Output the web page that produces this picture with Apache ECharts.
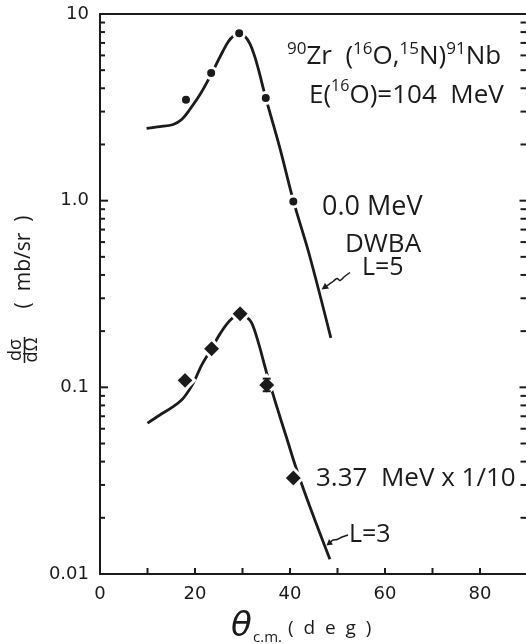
<!DOCTYPE html>
<html><head><meta charset="utf-8">
<script src="https://cdn.jsdelivr.net/npm/echarts@6/dist/echarts.min.js"></script>
<style>html,body{margin:0;padding:0;background:#fff}#c{width:526px;height:644px}</style>
</head><body><div id="c"></div>
<script>
// ---- data ----
const upperCurveX = [9.8, 12.6, 15.4, 17.2, 18.9, 21.05, 23.2, 25.3, 27.0, 28.2, 29.3, 30.5, 31.6, 32.5, 33.4, 34.9, 37.9, 40.7, 44.1, 48.6];
const upperCurveY = [2.44, 2.49, 2.56, 2.72, 3.08, 3.70, 4.64, 5.92, 7.11, 7.65, 7.89, 7.6, 6.9, 6.0, 5.0, 3.55, 1.9, 1.0, 0.51, 0.184];
const lowerCurveX = [10.0, 12.6, 15.4, 17.5, 19.6, 21.4, 23.5, 25.3, 27.4, 29.5, 30.7, 31.9, 33.3, 35.1, 37.2, 39.3, 41.4, 44.9, 48.4];
const lowerCurveY = [0.0643, 0.0711, 0.0788, 0.0873, 0.105, 0.1315, 0.1614, 0.194, 0.2286, 0.248, 0.240, 0.222, 0.175, 0.119, 0.079, 0.0535, 0.0362, 0.0205, 0.012];
const upperPointsX = [18.1, 23.4, 29.3, 34.9, 40.7];
const upperPointsY = [3.47, 4.83, 7.89, 3.55, 0.99];
const lowerPointsX = [17.9, 23.5, 29.5, 35.1, 40.7];
const lowerPointsY = [0.109, 0.161, 0.248, 0.103, 0.0327];
const errBarX = [35.1];
const errBarLow = [0.0953];
const errBarHigh = [0.1113];
const xTickValues = [10, 20, 30, 40, 50, 60, 70, 80];
const xTickLabels = ['0', '20', '40', '60', '80'];
const yTickValues = [0.01, 0.1, 1, 10];
const yTickLabels = ['0.01', '0.1', '1.0', '10'];
const minorMultipliers = [2, 3, 4, 5, 6, 7, 8, 9];
const decades = [0.01, 0.1, 1];

const minorTickValues = [];
decades.forEach(d => minorMultipliers.forEach(m => minorTickValues.push(d * m)));

const FONT = 'Open Sans';
const TICKFONT = 'DejaVu Sans';
const INK = '#1b1b1b';
const zip = (a, b) => a.map((v, i) => [v, b[i]]);

const chart = echarts.init(document.getElementById('c'), null, {renderer: 'canvas'});

function yLabel(v) {
  for (let i = 0; i < yTickValues.length; i++) {
    if (Math.abs(Math.log10(v) - Math.log10(yTickValues[i])) < 1e-6) return yTickLabels[i];
  }
  return '';
}
function xLabel(v) {
  const s = String(Math.round(v));
  return xTickLabels.indexOf(s) >= 0 ? s : '';
}

const axisLineStyle = {color: INK, width: 2};
const option = {
  backgroundColor: '#fff',
  animation: false,
  grid: {left: 100, top: 14, width: 427.5, height: 560, containLabel: false, outerBoundsMode: 'none'},
  xAxis: [{
    type: 'value', min: 0, max: 90, interval: 10, position: 'bottom',
    axisLine: {show: true, onZero: false, lineStyle: axisLineStyle},
    axisTick: {show: false},
    axisLabel: {formatter: xLabel, color: INK, fontFamily: TICKFONT, fontSize: 18, margin: 11},
    splitLine: {show: false}
  }, {
    type: 'value', min: 0, max: 90, position: 'top',
    axisLine: {show: true, onZero: false, lineStyle: axisLineStyle},
    axisTick: {show: false}, axisLabel: {show: false}, splitLine: {show: false}
  }],
  yAxis: [{
    type: 'log', logBase: 10, min: 0.01, max: 10, position: 'left',
    axisLine: {show: true, onZero: false, lineStyle: axisLineStyle},
    axisTick: {show: false},
    axisLabel: {formatter: yLabel, color: INK, fontFamily: TICKFONT, fontSize: 18, margin: 11},
    splitLine: {show: false}
  }, {
    type: 'log', logBase: 10, min: 0.01, max: 10, position: 'right',
    axisLine: {show: true, onZero: false, lineStyle: axisLineStyle},
    axisTick: {show: false}, axisLabel: {show: false}, splitLine: {show: false}
  }],
  series: [
    {type: 'line', data: zip(upperCurveX, upperCurveY), symbol: 'none', smooth: 0.35, z: 2,
     lineStyle: {color: INK, width: 2.8}},
    {type: 'line', data: zip(lowerCurveX, lowerCurveY), symbol: 'none', smooth: 0.35, z: 2,
     lineStyle: {color: INK, width: 2.8}},
    {type: 'scatter', data: zip(upperPointsX, upperPointsY), symbol: 'circle', symbolSize: 11, z: 3,
     itemStyle: {color: INK, borderColor: '#fff', borderWidth: 3, opacity: 1}},
    {type: 'scatter', data: zip(lowerPointsX, lowerPointsY), symbol: 'diamond', symbolSize: 19, z: 3,
     itemStyle: {color: INK, borderColor: '#fff', borderWidth: 3, opacity: 1}},
    {type: 'custom', coordinateSystem: 'cartesian2d', z: 4, silent: true,
     data: errBarX.map((x, i) => [x, errBarLow[i], errBarHigh[i]]),
     renderItem: (params, api) => {
       const lo = api.coord([api.value(0), api.value(1)]);
       const hi = api.coord([api.value(0), api.value(2)]);
       const w = 4;
       return {type: 'group', children: [
         {type: 'line', shape: {x1: lo[0], y1: lo[1], x2: hi[0], y2: hi[1]}, style: {stroke: INK, lineWidth: 2}},
         {type: 'line', shape: {x1: lo[0] - w, y1: lo[1], x2: lo[0] + w, y2: lo[1]}, style: {stroke: INK, lineWidth: 2}},
         {type: 'line', shape: {x1: hi[0] - w, y1: hi[1], x2: hi[0] + w, y2: hi[1]}, style: {stroke: INK, lineWidth: 2}}
       ]};
     }}
  ]
};
chart.setOption(option);

// ---- axis ticks, placed through the chart's own scales ----
const toPx = (x, y) => chart.convertToPixel({xAxisIndex: 0, yAxisIndex: 0}, [x, y]);
const g = [];
function tick(x1, y1, x2, y2) {
  g.push({type: 'line', shape: {x1: x1, y1: y1, x2: x2, y2: y2}, style: {stroke: INK, lineWidth: 2}});
}
const xMinPx = toPx(0, 1)[0], xMaxPx = toPx(90, 1)[0];
const yBotPx = toPx(0, 0.01)[1];
yTickValues.forEach(v => { const y = toPx(0, v)[1]; tick(xMinPx, y, xMinPx + 8, y); tick(xMaxPx - 8, y, xMaxPx, y); });
minorTickValues.forEach(v => { const y = toPx(0, v)[1]; tick(xMinPx, y, xMinPx + 5, y); tick(xMaxPx - 7, y, xMaxPx, y); });
xTickValues.forEach(v => { const x = toPx(v, 1)[0]; tick(x, yBotPx, x, yBotPx - 6); });

function txt(x, y, text, size, extra) {
  extra = extra || {};
  return {type: 'text', x: x, y: y, silent: true, z: 10, rotation: extra.rotation || 0,
    style: Object.assign({text: text, fill: INK, fontFamily: FONT, fontSize: size,
      textAlign: 'left', textVerticalAlign: 'middle'}, extra.style || {})};
}
const sup = {fontSize: 16, lineHeight: 16, verticalAlign: 'top', fontFamily: FONT, fill: INK};
const sup17 = Object.assign({}, sup, {fontSize: 17, lineHeight: 17});
g.push({type: 'text', x: 287, y: 57, z: 10, silent: true, style: {
  text: '{s|90}{m|Zr  (}{s|16}{m|O,}{s|15}{m|N)}{s|91}{m|Nb}',
  textVerticalAlign: 'middle', fill: INK,
  rich: {s: sup17, m: {fontSize: 26, lineHeight: 33, verticalAlign: 'middle', fontFamily: FONT, fill: INK}}
}});
g.push({type: 'text', x: 309, y: 96, z: 10, silent: true, style: {
  text: '{m|E(}{s|16}{m|O)=104  MeV}',
  textVerticalAlign: 'middle', fill: INK,
  rich: {s: sup, m: {fontSize: 26, lineHeight: 36, verticalAlign: 'middle', fontFamily: FONT, fill: INK}}
}});
g.push(txt(322, 207, '0.0 MeV', 27));
g.push(txt(345, 245, 'DWBA', 26));
g.push(txt(362, 268, 'L=5', 25));
g.push(txt(316, 479, '3.37  MeV x 1/10', 26));
g.push(txt(349, 535, 'L=3', 25));
g.push(txt(24, 262, '(  mb/sr  )', 21, {rotation: Math.PI / 2, style: {textAlign: 'center'}}));
g.push(txt(16, 350, 'dσ', 18, {rotation: Math.PI / 2, style: {textAlign: 'center'}}));
g.push(txt(32, 350, 'dΩ', 18, {rotation: Math.PI / 2, style: {textAlign: 'center'}}));
g.push({type: 'line', silent: true, z: 10, shape: {x1: 24.5, y1: 337, x2: 24.5, y2: 363}, style: {stroke: INK, lineWidth: 1.5}});
g.push(txt(231, 627, 'θ', 34, {style: {fontFamily: 'DejaVu Sans', fontStyle: 'italic'}}));
g.push(txt(253, 638, 'c.m.', 15));
g.push(txt(288, 629, '(  d  e  g  )', 19));
g.push({type: 'polyline', silent: true, z: 10, shape: {points: [[350, 272.5], [344, 277], [340, 280.5], [337, 278.5], [333, 281.5], [326, 286.5]], smooth: 0.3},
  style: {stroke: INK, lineWidth: 1.5, fill: null}});
g.push({type: 'polygon', silent: true, z: 10, shape: {points: [[321.5, 289.5], [325, 283], [329, 288.5]]}, style: {fill: INK}});
g.push({type: 'polyline', silent: true, z: 10, shape: {points: [[348, 535], [342, 537], [337, 539.5], [333, 540], [330, 542.5]], smooth: 0.3},
  style: {stroke: INK, lineWidth: 1.5, fill: null}});
g.push({type: 'polygon', silent: true, z: 10, shape: {points: [[326.5, 545.5], [329, 539], [333, 544.5]]}, style: {fill: INK}});
chart.setOption({graphic: g});
</script>
</body></html>
